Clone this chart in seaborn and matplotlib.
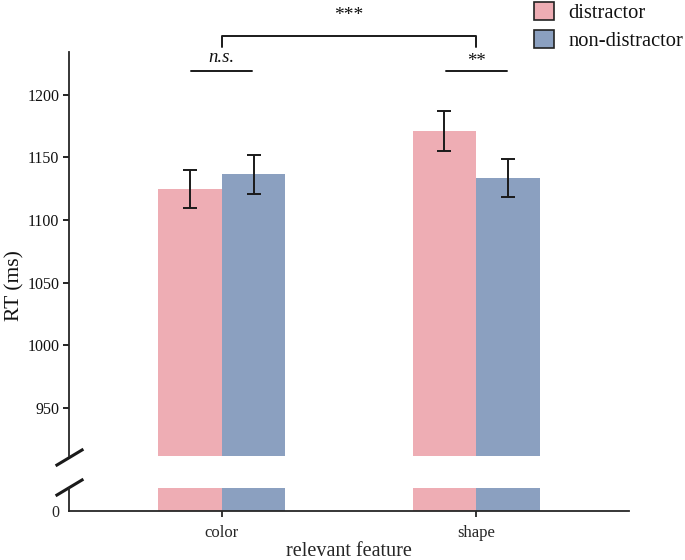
import numpy as np
import pandas as pd
import matplotlib.pyplot as plt
import seaborn as sns

# values
features = ["color", "shape"]
groups = ["distractor", "non-distractor"]
rt_distractor = [1124.5, 1171.0]
rt_nondistractor = [1136.3, 1133.6]
se_distractor = [15.3, 16.2]
se_nondistractor = [15.5, 15.0]
colors = ["#EEADB4", "#8BA0C0"]

sns.set_theme(style="ticks")
plt.rcParams["font.family"] = ["Liberation Serif", "DejaVu Serif"]
plt.rcParams["axes.linewidth"] = 1.3
plt.rcParams["xtick.major.width"] = 1.3
plt.rcParams["ytick.major.width"] = 1.3
plt.rcParams["text.color"] = "#111111"

df = pd.DataFrame({
    "feature": features * 2,
    "group": [groups[0]] * 2 + [groups[1]] * 2,
    "rt": rt_distractor + rt_nondistractor,
    "se": se_distractor + se_nondistractor,
})

fig = plt.figure(figsize=(6.85, 5.6), dpi=100)
ax_top = fig.add_axes([0.1007, 0.1863, 0.8175, 0.7209])
ax_bot = fig.add_axes([0.1007, 0.0875, 0.8175, 0.0411])

for ax in (ax_top, ax_bot):
    sns.barplot(data=df, x="feature", y="rt", hue="group", order=features,
                hue_order=groups, palette=colors, width=0.5, saturation=1,
                errorbar=None, legend=False, linewidth=0, ax=ax)
    ax.set_xlim(-0.6, 1.6)
    ax.set_xlabel("")
    ax.set_ylabel("")
    sns.despine(ax=ax)

# error bars at the bar centres seaborn placed
for cont, g in zip(ax_top.containers, groups):
    sub = df[df["group"] == g].set_index("feature").loc[features]
    xs = [b.get_x() + b.get_width() / 2 for b in cont]
    ax_top.errorbar(xs, sub["rt"], yerr=sub["se"], fmt="none", ecolor="#1a1a1a",
                    elinewidth=1.4, capsize=5, capthick=1.4, zorder=5)

ax_top.set_ylim(912, 1234)
ax_top.set_yticks([950, 1000, 1050, 1100, 1150, 1200])
ax_top.spines["bottom"].set_visible(False)
ax_top.tick_params(axis="x", bottom=False, labelbottom=False)
ax_top.tick_params(axis="y", labelsize=11.5, length=4, pad=3, colors="#111111")

ax_bot.set_ylim(0, 18.3)
ax_bot.set_yticks([0])
ax_bot.tick_params(axis="y", labelsize=11.5, length=0, pad=7)
ax_bot.tick_params(axis="x", labelsize=12, length=4, pad=6)
ax_bot.set_xlabel("relevant feature", fontsize=14.5, labelpad=1)

fig.text(0.022, 0.49, "RT (ms)", rotation=90, ha="center", va="center", fontsize=15.5)

# axis break marks
kw = dict(marker=[(-1, -0.6), (1, 0.6)], markersize=20, linestyle="none",
          color="k", mec="k", mew=2.2, clip_on=False)
ax_top.plot([0], [-0.003], transform=ax_top.transAxes, **kw)
ax_bot.plot([0], [1.05], transform=ax_bot.transAxes, **kw)

# significance marks
x0, x1 = 0, 1
off = 0.12
for xc, lab, style in [(x0, "n.s.", "italic"), (x1, "**", "normal")]:
    ax_top.plot([xc - off, xc + off], [1219, 1219], color="k", lw=1.4, clip_on=False)
    ax_top.text(xc, 1223 if style == "italic" else 1219.5, lab, ha="center", va="bottom",
                fontsize=13.5, style=style)
ax_top.plot([x0, x0, x1, x1], [1238, 1247, 1247, 1238], color="k", lw=1.4, clip_on=False)
ax_top.text((x0 + x1) / 2, 1256, "***", ha="center", va="bottom", fontsize=14)

handles = [plt.Rectangle((0, 0), 1, 1, facecolor=c, edgecolor="#222222", lw=1.2) for c in colors]
fig.legend(handles, groups, loc="upper right", bbox_to_anchor=(1.015, 1.018), frameon=False,
           fontsize=14.8, handlelength=0.95, handleheight=0.95, handletextpad=0.7,
           labelspacing=0.35, borderaxespad=0.2)

fig.savefig("out.png", dpi=100)
